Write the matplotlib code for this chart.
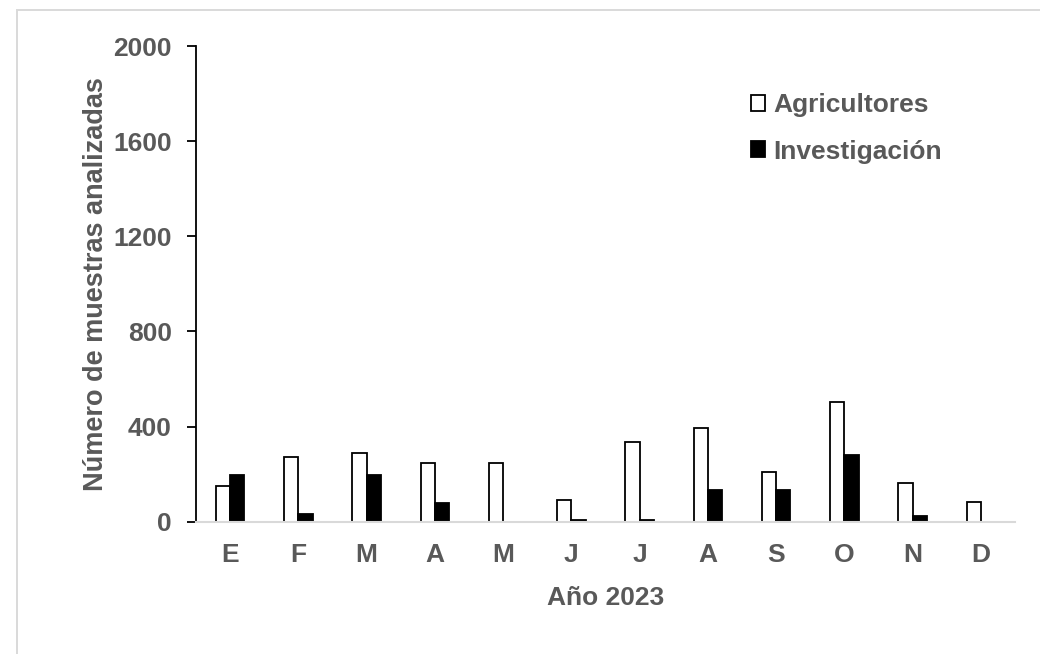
import numpy as np
import matplotlib
matplotlib.use("Agg")
import matplotlib.pyplot as plt
from matplotlib.patches import Rectangle

meses = ["E", "F", "M", "A", "M", "J", "J", "A", "S", "O", "N", "D"]
agricultores = [148, 272, 287, 248, 248, 93, 334, 396, 209, 505, 163, 84]
investigacion = [195, 32, 195, 80, 0, 7, 7, 133, 133, 281, 25, 0]

gris = "#595959"
plt.rcParams["font.family"] = ["Liberation Sans", "DejaVu Sans"]
plt.rcParams["font.weight"] = "bold"

fig = plt.figure(figsize=(10.4, 6.54), dpi=100)
ax = fig.add_axes([196/1040, 1-521.7/654, (1015-196)/1040, (521.7-46)/654])

# marco del grafico
fig.patches.append(Rectangle((17/1040, -0.1), 1.2, 1.1 - 10.5/654, transform=fig.transFigure,
                             fill=False, edgecolor="#d9d9d9", linewidth=1.4))

x = np.arange(len(meses))
w = 0.21
ax.bar(x - w/2, agricultores, w, color="white", edgecolor="black", linewidth=1.3, label="Agricultores")
ax.bar(x + w/2, investigacion, w, color="black", edgecolor="black", linewidth=1.3, label="Investigación")

ax.set_xlim(-0.5, len(meses) - 0.5)
ax.set_ylim(0, 2000)
ax.set_yticks([0, 400, 800, 1200, 1600, 2000])
ax.set_xticks(x)
ax.set_xticklabels(meses)

for s in ["top", "right"]:
    ax.spines[s].set_visible(False)
ax.spines["bottom"].set_color("#d9d9d9")
ax.spines["bottom"].set_linewidth(1.5)
ax.spines["left"].set_linewidth(1.3)

ax.tick_params(axis="y", direction="out", length=6.5, width=1.3, pad=11, labelsize=19, labelcolor=gris)
ax.tick_params(axis="x", length=0, pad=15, labelsize=19, labelcolor=gris)

ax.set_xlabel("Año 2023", fontsize=19, color=gris, fontweight="bold", labelpad=14)
ax.set_ylabel("Número de muestras analizadas", fontsize=19.5, color=gris, fontweight="bold", labelpad=3)

leg = ax.legend(loc="upper left", bbox_to_anchor=((727-196)/819, 0.951), frameon=False,
                fontsize=19, handlelength=0.55, handleheight=0.55, handletextpad=0.3,
                labelspacing=0.86)
for t in leg.get_texts():
    t.set_color(gris)

fig.savefig("out.png", dpi=100)
plt.close(fig)
